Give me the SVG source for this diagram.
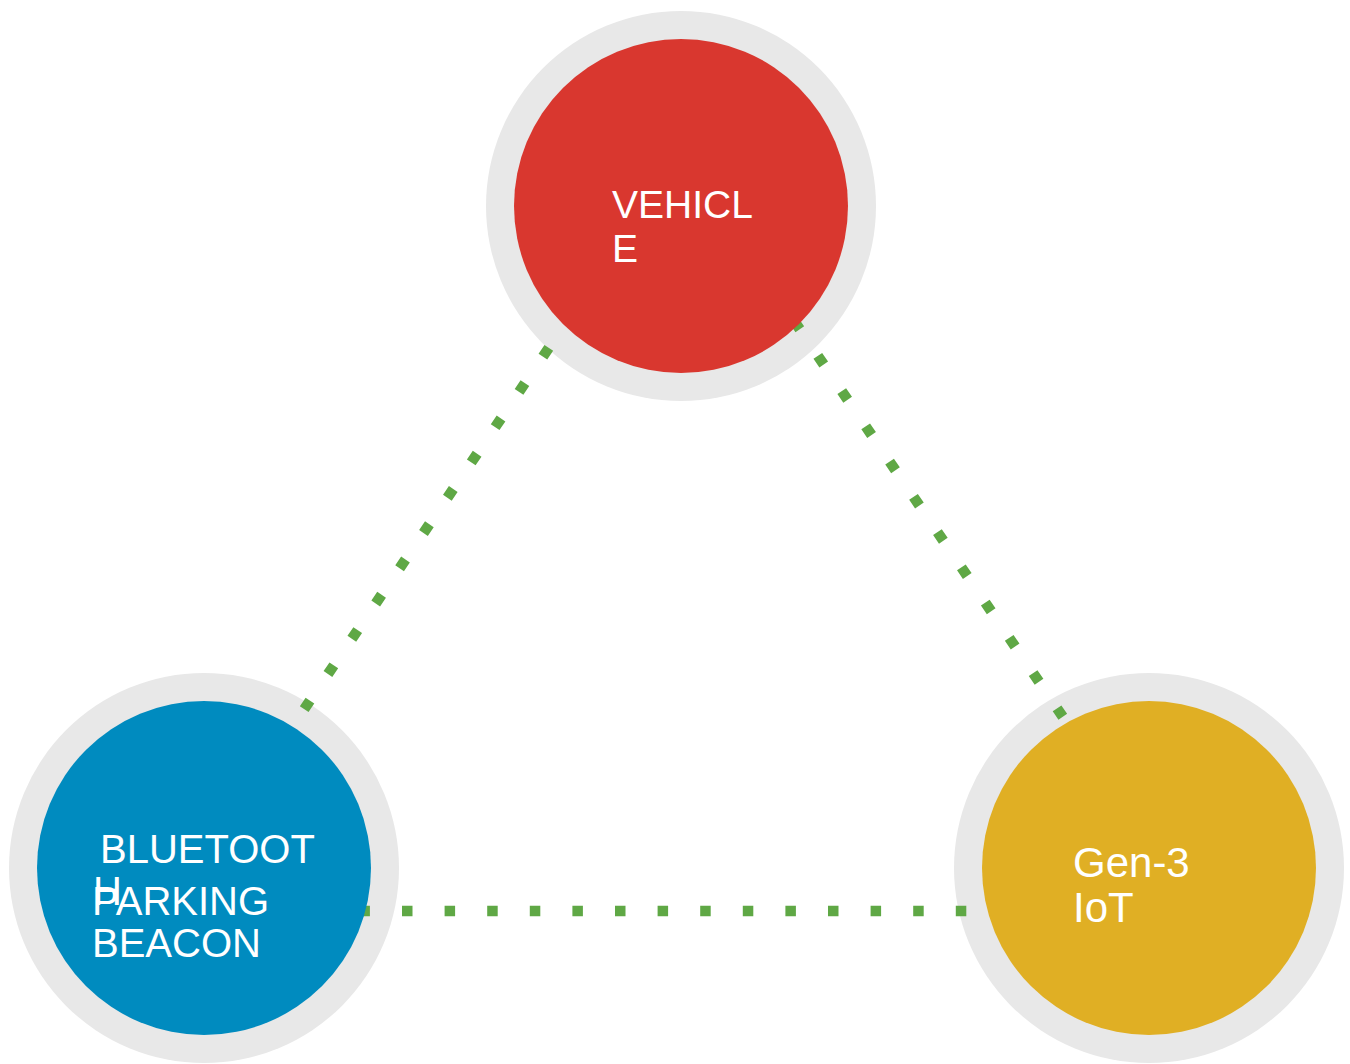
<svg xmlns="http://www.w3.org/2000/svg" width="1350" height="1064" viewBox="0 0 1350 1064">
<style>
.ring{fill:#e8e8e8}
.lbl{font-family:"Liberation Sans","DejaVu Sans",sans-serif;font-size:39px;fill:#ffffff}
.dot{fill:none;stroke:#5fa845;stroke-width:10.5;stroke-dasharray:10.5 32.1}
</style>
<rect width="1350" height="1064" fill="#ffffff"/>
<g id="rings">
<circle class="ring" cx="681" cy="206" r="195"/>
<circle class="ring" cx="204" cy="868" r="195"/>
<circle class="ring" cx="1149" cy="868" r="195"/>
</g>
<g id="connectors">
<line class="dot" x1="548.8" y1="347.9" x2="304.2" y2="709.1"/>
<line class="dot" x1="793.9" y1="320.6" x2="1062.8" y2="716.8"/>
<line class="dot" x1="359.4" y1="911" x2="966.7" y2="911"/>
</g>
<g id="vehicle">
<circle cx="681" cy="206" r="167" fill="#d9372f"/>
<text class="lbl" x="612" y="218">VEHICL</text>
<text class="lbl" x="612" y="262">E</text>
</g>
<g id="beacon">
<circle cx="204" cy="868" r="167" fill="#008bbf"/>
<text class="lbl" x="100" y="863" style="font-size:40px">BLUETOOT</text>
<text class="lbl" x="93" y="905" style="font-size:40px">H</text>
<text class="lbl" x="92" y="915" style="font-size:40px">PARKING</text>
<text class="lbl" x="92" y="957" style="font-size:40px">BEACON</text>
</g>
<g id="iot">
<circle cx="1149" cy="868" r="167" fill="#e0af24"/>
<text class="lbl" x="1073" y="877" style="font-size:42px">Gen-3</text>
<text class="lbl" x="1073" y="922" style="font-size:42px">IoT</text>
</g>
</svg>
